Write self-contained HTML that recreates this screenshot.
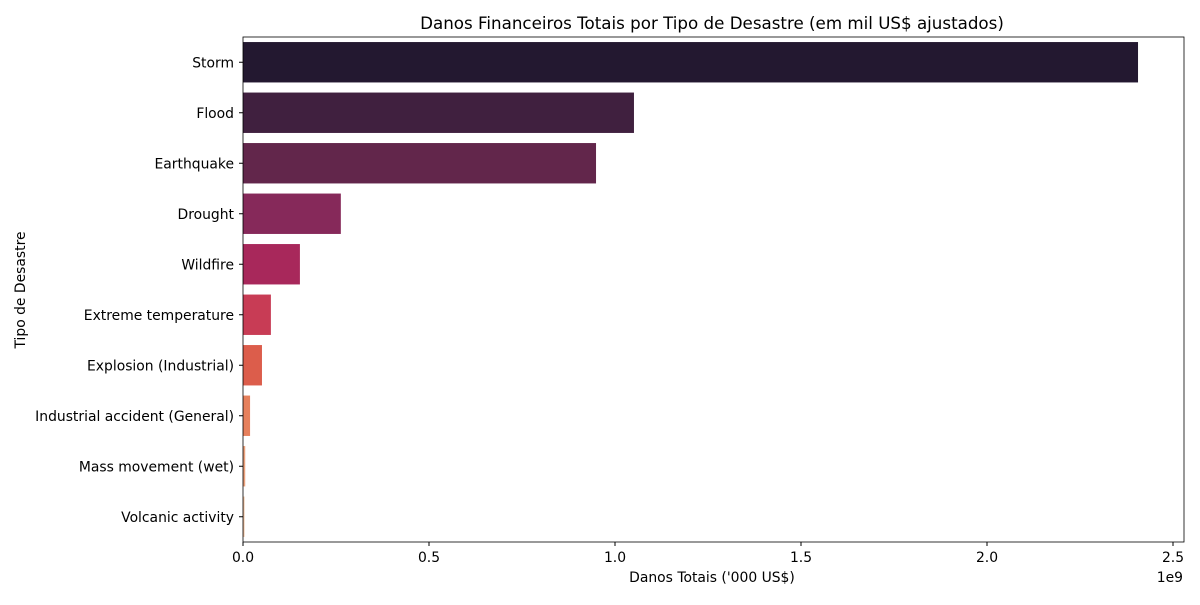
<!DOCTYPE html>
<html><head><meta charset="utf-8"><style>
body{margin:0;background:#fff;font-family:"Liberation Sans","DejaVu Sans",sans-serif;}
svg text{font-family:"DejaVu Sans","Liberation Sans",sans-serif;}
</style></head><body>
<svg id="chart" width="1200" height="600" xmlns="http://www.w3.org/2000/svg">
<text x="712" y="29" text-anchor="middle" font-size="16.7">Danos Financeiros Totais por Tipo de Desastre (em mil US$ ajustados)</text>
<g id="bars"></g>
<g id="axes"></g>
<text x="712" y="582" text-anchor="middle" font-size="13.9">Danos Totais ('000 US$)</text>
<text x="25" y="290" text-anchor="middle" font-size="13.9" transform="rotate(-90 25 290)">Tipo de Desastre</text>
<text x="1183" y="582" text-anchor="end" font-size="13.9">1e9</text>
</svg>
<script>
const categories=["Storm","Flood","Earthquake","Drought","Wildfire","Extreme temperature","Explosion (Industrial)","Industrial accident (General)","Mass movement (wet)","Volcanic activity"];
const damages=[2.406,1.051,0.949,0.263,0.153,0.075,0.051,0.019,0.006,0.004];
const xTicks=[0,0.5,1.0,1.5,2.0,2.5];
const xTickLabels=["0.0","0.5","1.0","1.5","2.0","2.5"];
const colors=["#231830","#40203f","#62264b","#86295a","#a8285b","#c83c55","#dc5d4b","#e6805c","#eca27d","#efbf9d"];
const NS="http://www.w3.org/2000/svg";
const L=243,R=1184,T=37,B=542;
const xs=v=>L+v*372;
const band=(B-T)/categories.length;
const yc=i=>T+band*(i+0.5);
const bars=document.getElementById('bars'),axes=document.getElementById('axes');
function mk(tag,attrs,parent){const e=document.createElementNS(NS,tag);for(const k in attrs)e.setAttribute(k,attrs[k]);parent.appendChild(e);return e;}
categories.forEach((c,i)=>{
 const r=mk('rect',{x:L,y:yc(i)-band*0.4,width:xs(damages[i])-L,height:band*0.8,fill:colors[i]},bars);
 
 
 mk('line',{x1:L-4,x2:L,y1:yc(i),y2:yc(i),stroke:'#000'},axes);
 const t=mk('text',{x:L-9,y:yc(i)+5,'text-anchor':'end','font-size':13.9},axes);
 t.textContent=c;
 
 
});
xTicks.forEach((v,i)=>{
 mk('line',{x1:xs(v),x2:xs(v),y1:B,y2:B+4,stroke:'#000'},axes);
 const t=mk('text',{x:xs(v),y:B+20,'text-anchor':'middle','font-size':13.9},axes);
 t.textContent=xTickLabels[i];
 
 
});
const f=mk('rect',{x:L,y:T,width:R-L,height:B-T,fill:'none',stroke:'#000','stroke-width':0.8},axes);


</script>
</body></html>
